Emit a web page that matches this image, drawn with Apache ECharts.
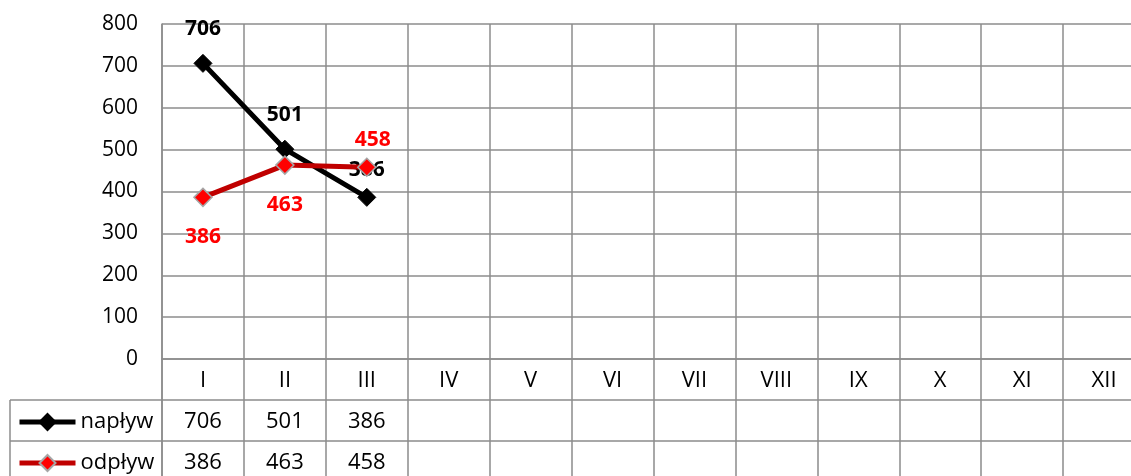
<!DOCTYPE html>
<html>
<head>
<meta charset="utf-8">
<script src="https://cdn.jsdelivr.net/npm/echarts@6/dist/echarts.min.js"></script>
<style>
  html, body { margin: 0; padding: 0; background: #fff; }
  #chart { width: 1131px; height: 476px; }
</style>
</head>
<body>
<div id="chart"></div>
<script>
const months = ['I', 'II', 'III', 'IV', 'V', 'VI', 'VII', 'VIII', 'IX', 'X', 'XI', 'XII'];
const naplyw = [706, 501, 386];
const odplyw = [386, 463, 458];
const seriesNames = ['napływ', 'odpływ'];

// label placement (pixels, relative to the point)
const naplywLabelOffset = [[0, -34], [0, -34], [0, -27]];
const odplywLabelOffset = [[0, 40], [0, 40], [6, -27]];

const FONT = 'Open Sans';
const GRID_COLOR = '#8c8c8c';
const ROW_H = 41;

const chart = echarts.init(document.getElementById('chart'));

function withLabels(values, offsets) {
    return values.map((v, i) => ({ value: v, label: { offset: offsets[i] } }));
}

function tableAxis(idx, formatter) {
    return {
        type: 'category',
        data: months,
        position: 'bottom',
        offset: idx * ROW_H,
        boundaryGap: true,
        axisLine: { show: true, lineStyle: { color: GRID_COLOR, width: 1.5 } },
        axisTick: { show: true, length: ROW_H, interval: 0, lineStyle: { color: GRID_COLOR, width: 1.5 } },
        axisLabel: {
            interval: 0, margin: 11, color: '#000',
            fontFamily: FONT, fontSize: 22,
            formatter: formatter
        },
        splitLine: { show: idx === 0, interval: 0, lineStyle: { color: GRID_COLOR, width: 1.5 } }
    };
}

function legendRow(name, top) {
    return {
        orient: 'vertical',
        left: 12,
        top: top,
        itemWidth: 56,
        itemHeight: 20,
        itemGap: 4,
        lineStyle: { width: 5 },
        textStyle: { fontFamily: FONT, fontSize: 22, color: '#000' },
        data: [name]
    };
}

const option = {
    backgroundColor: '#fff',
    animation: false,
    grid: { left: 162, top: 24, width: 983, height: 335, containLabel: false, outerBoundsMode: 'none' },
    legend: [
        legendRow(seriesNames[0], 406),
        legendRow(seriesNames[1], 447)
    ],
    xAxis: [
        tableAxis(0, v => v),
        tableAxis(1, (v, i) => naplyw[i] != null ? String(naplyw[i]) : ''),
        tableAxis(2, (v, i) => odplyw[i] != null ? String(odplyw[i]) : '')
    ],
    yAxis: {
        type: 'value',
        min: 0, max: 800, interval: 100,
        axisLine: { show: true, lineStyle: { color: GRID_COLOR, width: 1.5 } },
        axisTick: { show: false },
        axisLabel: { margin: 24, color: '#000', fontFamily: FONT, fontSize: 21 },
        splitLine: { show: true, lineStyle: { color: GRID_COLOR, width: 1.5 } }
    },
    graphic: [
        // left column of the data table
        { type: 'line', shape: { x1: 10, y1: 400, x2: 162, y2: 400 }, style: { stroke: GRID_COLOR, lineWidth: 1.5 } },
        { type: 'line', shape: { x1: 10, y1: 441, x2: 162, y2: 441 }, style: { stroke: GRID_COLOR, lineWidth: 1.5 } },
        { type: 'line', shape: { x1: 10, y1: 400, x2: 10, y2: 476 }, style: { stroke: GRID_COLOR, lineWidth: 1.5 } },
        { type: 'line', shape: { x1: 162, y1: 359, x2: 162, y2: 476 }, style: { stroke: GRID_COLOR, lineWidth: 1.5 } }
    ],
    series: [
        {
            name: seriesNames[0],
            type: 'line',
            xAxisIndex: 0,
            data: withLabels(naplyw, naplywLabelOffset),
            symbol: 'diamond',
            symbolSize: 18,
            lineStyle: { color: '#000', width: 5 },
            itemStyle: { color: '#000', borderColor: '#000', borderWidth: 1 },
            label: {
                show: true, position: 'inside',
                fontFamily: FONT, fontSize: 21, fontWeight: 'bold', color: '#000'
            },
            z: 3
        },
        {
            name: seriesNames[1],
            type: 'line',
            xAxisIndex: 0,
            data: withLabels(odplyw, odplywLabelOffset),
            symbol: 'diamond',
            symbolSize: 18,
            lineStyle: { color: '#c00000', width: 5 },
            itemStyle: { color: '#ff0000', borderColor: '#a6a6a6', borderWidth: 1.5 },
            label: {
                show: true, position: 'inside',
                fontFamily: FONT, fontSize: 21, fontWeight: 'bold', color: '#ff0000'
            },
            z: 4
        }
    ]
};

chart.setOption(option);
</script>
</body>
</html>
